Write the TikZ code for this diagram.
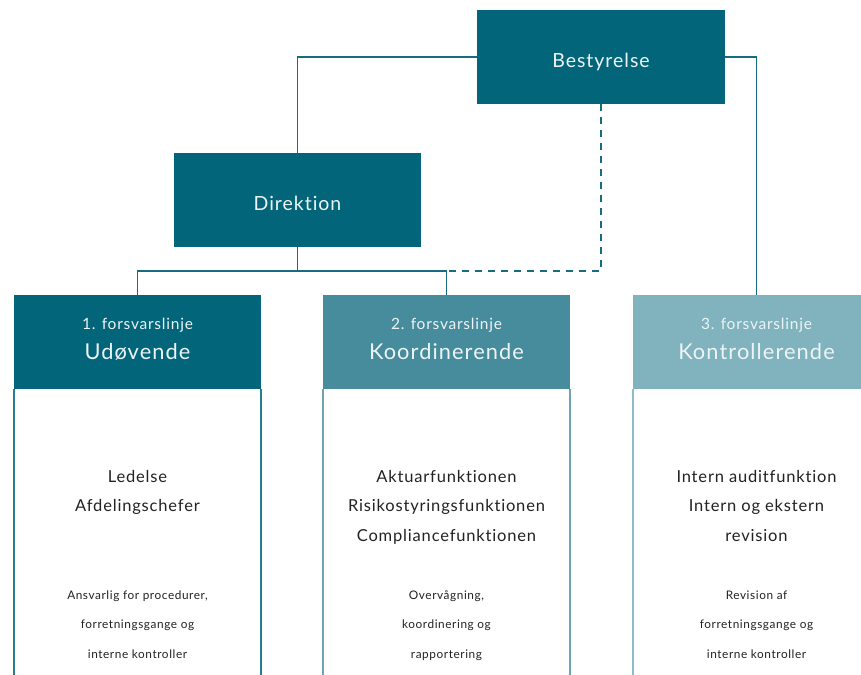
\documentclass[tikz,border=0pt]{standalone}
\usepackage{fontspec}
\setmainfont{Lato}[LetterSpace=5, Ligatures={NoCommon,NoContextual}]
\definecolor{cdark}{HTML}{03657A}
\definecolor{cmid}{HTML}{468C9C}
\definecolor{clight}{HTML}{80B3BE}
\definecolor{cline}{HTML}{176C80}
\definecolor{ctext}{HTML}{EDF4F6}
\definecolor{cbody}{HTML}{222222}
\definecolor{cside1}{HTML}{2A7C8F}
\definecolor{cside2}{HTML}{6FA3B0}
\definecolor{cside3}{HTML}{8FBCC6}
\begin{document}
\begin{tikzpicture}[x=1pt,y=-1pt,
  topbox/.style={fill=cdark, text=ctext, minimum width=248pt, minimum height=94pt, inner sep=0pt, text height=20.5pt, text depth=0pt, font=\fontsize{19.5}{24}\selectfont},
  hdrbox/.style={minimum width=247pt, minimum height=94pt, inner sep=0pt},
  htitle/.style={anchor=base, inner sep=0pt, text=ctext, font=\fontsize{15.5}{19}\selectfont},
  hmain/.style={anchor=base, inner sep=0pt, text=ctext, font=\fontsize{21.8}{25}\selectfont},
  bodytext/.style={anchor=north, inner sep=0pt, align=center, text=cbody, font=\fontsize{16.5}{29.5}\selectfont},
  smalltext/.style={anchor=north, inner sep=0pt, align=center, text=cbody, font=\fontsize{11.8}{29.7}\selectfont},
  conn/.style={draw=cline, line width=1.7pt},
  dashconn/.style={draw=cline, line width=1.7pt, dash pattern=on 7pt off 6pt},
  side/.style={line width=1.5pt}
]
\useasboundingbox (0,0) rectangle (861,674);
\fill[white] (0,0) rectangle (861,674);

% top boxes
\node[topbox] (best) at (601,57) {Bestyrelse};
\node[topbox, minimum width=247pt] (dir) at (297.5,200) {Direktion};

% headers
\node[hdrbox, fill=cdark] (h1) at (137.5,342) {};
\node[hdrbox, fill=cmid] (h2) at (446.5,342) {};
\node[hdrbox, fill=clight] (h3) at (756.5,342) {};

\node[htitle] (h1a) at (137.5,329) {1. forsvarslinje};
\node[hmain] (h1b) at (137.5,359) {Udøvende};
\node[htitle] (h2a) at (446.5,329) {2. forsvarslinje};
\node[hmain] (h2b) at (446.5,359) {Koordinerende};
\node[htitle] (h3a) at (756.5,329) {3. forsvarslinje};
\node[hmain] (h3b) at (756.5,359) {Kontrollerende};

% body side lines
\coordinate (bot) at (0,676);
\draw[side, draw=cside1] (h1.south west) -- (h1.south west |- bot);
\draw[side, draw=cside1] (h1.south east) -- (h1.south east |- bot);
\draw[side, draw=cside2] (h2.south west) -- (h2.south west |- bot);
\draw[side, draw=cside2] (h2.south east) -- (h2.south east |- bot);
\draw[side, draw=cside3] (h3.south west) -- (h3.south west |- bot);

% body texts
\node[bodytext] (b1) at (137.5,461.6) {\strut Ledelse\\Afdelingschefer};
\node[bodytext] (b2) at (446.5,461.6) {\strut Aktuarfunktionen\\Risikostyringsfunktionen\\Compliancefunktionen};
\node[bodytext] (b3) at (756.5,461.6) {\strut Intern auditfunktion\\Intern og ekstern\\revision};

\node[smalltext] (s1) at (137.5,578.2) {\strut Ansvarlig for procedurer,\\forretningsgange og\\interne kontroller};
\node[smalltext] (s2) at (446.5,578.2) {\strut Overvågning,\\koordinering og\\rapportering};
\node[smalltext] (s3) at (756.5,578.2) {\strut Revision af\\forretningsgange og\\interne kontroller};

% connectors
\coordinate (j) at (297.5,271);
\draw[conn] (best.west) -| (dir.north);
\draw[conn] (best.east) -| (h3.north);
\draw[conn] (dir.south) -- (j);
\draw[conn] (h1.north) |- (j) -| (h2.north);
\draw[dashconn] (best.south) |- (h2.north |- j);
\end{tikzpicture}
\end{document}
